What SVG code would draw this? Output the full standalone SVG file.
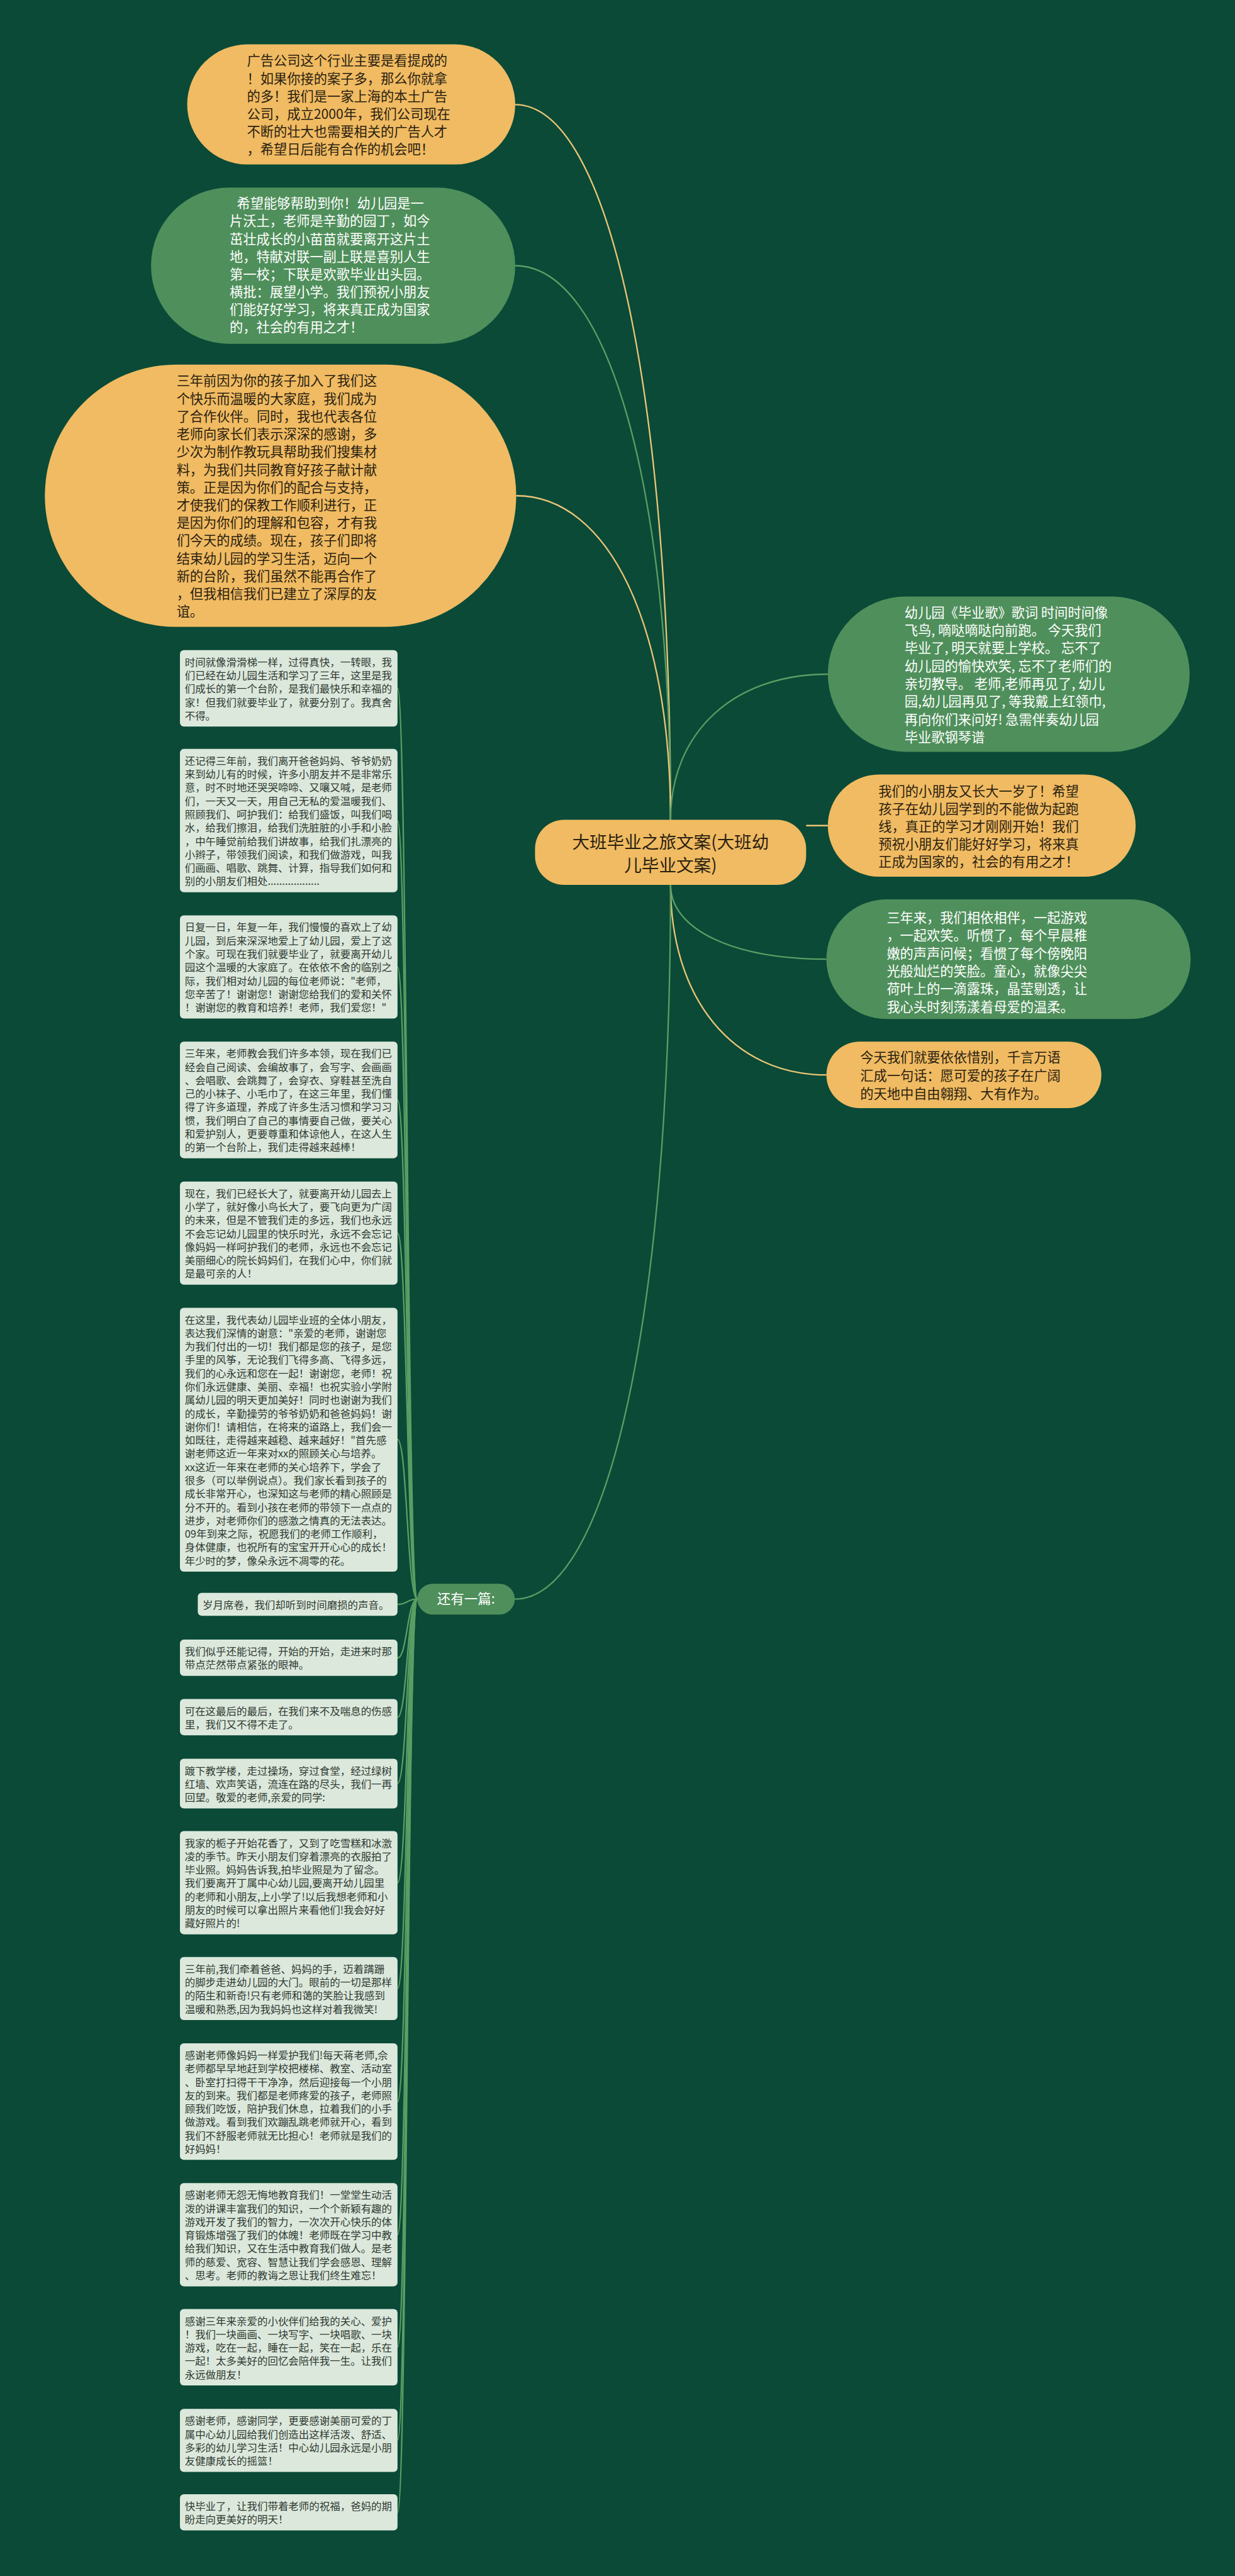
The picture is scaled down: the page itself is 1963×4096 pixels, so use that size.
<svg xmlns="http://www.w3.org/2000/svg" width="1963" height="4096" viewBox="0 0 1963 4096">
<style>
text{font-family:"Noto Sans CJK SC","Noto Sans",sans-serif}
.bg{fill:#0a4a37}
.org{fill:#f0bb62}
.grn{fill:#4f8f5b}
.box{fill:#dce8dc}
.lo{fill:none;stroke:#ecc576;stroke-width:3}
.lg{fill:none;stroke:#5b9e64;stroke-width:3}
.t28{font-size:27.7px}
.dk{fill:#2b2111}
.wt{fill:#ffffff}
.t21{font-size:21.5px;fill:#2f3a32}
.ctr{font-size:36px;fill:#2b2111;text-anchor:middle}
.pil{font-size:28px;fill:#ffffff;text-anchor:middle}
</style>
<rect class="bg" x="0" y="0" width="1963" height="4096"/>
<g transform="scale(0.7668)">
<g id="connectors">
<path class="lo" d="M1390 1700 C1390 810 1261 217 1068 217"/>
<path class="lg" d="M1390 1700 C1390 1011 1261 551 1068 551"/>
<path class="lo" d="M1390 1700 C1390 1297 1262 1028 1070 1028"/>
<path class="lg" d="M1390 1700 C1390 1519 1520 1398 1716 1398"/>
<path class="lo" d="M1671 1712 L1716 1712"/>
<path class="lg" d="M1390 1835 C1390 1927 1519 1989 1713 1989"/>
<path class="lo" d="M1390 1835 C1390 2071 1519 2229 1713 2229"/>
<path class="lg" d="M1390 1835 C1390 2724 1261 3316 1067 3316"/>
<path class="lg" d="M865 3316 C844 3316 844 1427 824 1427"/>
<path class="lg" d="M865 3316 C844 3316 844 1702 824 1702"/>
<path class="lg" d="M865 3316 C844 3316 844 2005 824 2005"/>
<path class="lg" d="M865 3316 C844 3316 844 2281 824 2281"/>
<path class="lg" d="M865 3316 C844 3316 844 2557 824 2557"/>
<path class="lg" d="M865 3316 C844 3316 844 2985 824 2985"/>
<path class="lg" d="M865 3316 C844 3316 844 3327 824 3327"/>
<path class="lg" d="M865 3316 C844 3316 844 3438 824 3438"/>
<path class="lg" d="M865 3316 C844 3316 844 3561 824 3561"/>
<path class="lg" d="M865 3316 C844 3316 844 3698 824 3698"/>
<path class="lg" d="M865 3316 C844 3316 844 3904 824 3904"/>
<path class="lg" d="M865 3316 C844 3316 844 4123 824 4123"/>
<path class="lg" d="M865 3316 C844 3316 844 4358 824 4358"/>
<path class="lg" d="M865 3316 C844 3316 844 4634 824 4634"/>
<path class="lg" d="M865 3316 C844 3316 844 4867 824 4867"/>
<path class="lg" d="M865 3316 C844 3316 844 5060 824 5060"/>
<path class="lg" d="M865 3316 C844 3316 844 5210 824 5210"/>
</g>

<g id="n-top1">
<rect class="org" x="388" y="92" width="680" height="249" rx="124.5"/>
<text class="t28 dk"><tspan x="512" y="136">广告公司这个行业主要是看提成的</tspan><tspan x="512" dy="36.8">！如果你接的案子多，那么你就拿</tspan><tspan x="512" dy="36.8">的多！我们是一家上海的本土广告</tspan><tspan x="512" dy="36.8">公司，成立2000年，我们公司现在</tspan><tspan x="512" dy="36.8">不断的壮大也需要相关的广告人才</tspan><tspan x="512" dy="36.8">，希望日后能有合作的机会吧！</tspan></text>
</g>

<g id="n-top2">
<rect class="grn" x="313" y="389" width="755" height="324" rx="162"/>
<text class="t28 wt"><tspan x="491" y="432">希望能够帮助到你！幼儿园是一</tspan><tspan x="476" dy="36.7">片沃土，老师是辛勤的园丁，如今</tspan><tspan x="476" dy="36.7">茁壮成长的小苗苗就要离开这片土</tspan><tspan x="476" dy="36.7">地，特献对联一副上联是喜别人生</tspan><tspan x="476" dy="36.7">第一校；下联是欢歌毕业出头园。</tspan><tspan x="476" dy="36.7">横批：展望小学。我们预祝小朋友</tspan><tspan x="476" dy="36.7">们能好好学习，将来真正成为国家</tspan><tspan x="476" dy="36.7">的，社会的有用之才！</tspan></text>
</g>

<g id="n-top3">
<rect class="org" x="93" y="756" width="977" height="544" rx="272"/>
<text class="t28 dk"><tspan x="366" y="800">三年前因为你的孩子加入了我们这</tspan><tspan x="366" dy="36.8">个快乐而温暖的大家庭，我们成为</tspan><tspan x="366" dy="36.8">了合作伙伴。同时，我也代表各位</tspan><tspan x="366" dy="36.8">老师向家长们表示深深的感谢，多</tspan><tspan x="366" dy="36.8">少次为制作教玩具帮助我们搜集材</tspan><tspan x="366" dy="36.8">料，为我们共同教育好孩子献计献</tspan><tspan x="366" dy="36.8">策。正是因为你们的配合与支持，</tspan><tspan x="366" dy="36.8">才使我们的保教工作顺利进行，正</tspan><tspan x="366" dy="36.8">是因为你们的理解和包容，才有我</tspan><tspan x="366" dy="36.8">们今天的成绩。现在，孩子们即将</tspan><tspan x="366" dy="36.8">结束幼儿园的学习生活，迈向一个</tspan><tspan x="366" dy="36.8">新的台阶，我们虽然不能再合作了</tspan><tspan x="366" dy="36.8">，但我相信我们已建立了深厚的友</tspan><tspan x="366" dy="36.8">谊。</tspan></text>
</g>

<g id="n-center">
<rect class="org" x="1109" y="1700" width="562" height="135" rx="60"/>
<text class="ctr"><tspan x="1390" y="1759">大班毕业之旅文案(大班幼</tspan><tspan x="1390" dy="48">儿毕业文案)</tspan></text>
</g>

<g id="n-r1">
<rect class="grn" x="1716" y="1237" width="750" height="322" rx="161"/>
<text class="t28 wt"><tspan x="1875" y="1280">幼儿园《毕业歌》歌词 时间时间像</tspan><tspan x="1875" dy="37">飞鸟, 嘀哒嘀哒向前跑。 今天我们</tspan><tspan x="1875" dy="37">毕业了, 明天就要上学校。 忘不了</tspan><tspan x="1875" dy="37">幼儿园的愉快欢笑, 忘不了老师们的</tspan><tspan x="1875" dy="37">亲切教导。 老师,老师再见了, 幼儿</tspan><tspan x="1875" dy="37">园,幼儿园再见了, 等我戴上红领巾,</tspan><tspan x="1875" dy="37">再向你们来问好! 急需伴奏幼儿园</tspan><tspan x="1875" dy="37">毕业歌钢琴谱</tspan></text>
</g>

<g id="n-r2">
<rect class="org" x="1716" y="1606" width="638" height="212" rx="106"/>
<text class="t28 dk"><tspan x="1821" y="1651">我们的小朋友又长大一岁了！希望</tspan><tspan x="1821" dy="36.5">孩子在幼儿园学到的不能做为起跑</tspan><tspan x="1821" dy="36.5">线，真正的学习才刚刚开始！我们</tspan><tspan x="1821" dy="36.5">预祝小朋友们能好好学习，将来真</tspan><tspan x="1821" dy="36.5">正成为国家的，社会的有用之才！</tspan></text>
</g>

<g id="n-r3">
<rect class="grn" x="1713" y="1865" width="755" height="248" rx="124"/>
<text class="t28 wt"><tspan x="1838" y="1913">三年来，我们相依相伴，一起游戏</tspan><tspan x="1838" dy="37">，一起欢笑。听惯了，每个早晨稚</tspan><tspan x="1838" dy="37">嫩的声声问候；看惯了每个傍晚阳</tspan><tspan x="1838" dy="37">光般灿烂的笑脸。童心，就像尖尖</tspan><tspan x="1838" dy="37">荷叶上的一滴露珠，晶莹剔透，让</tspan><tspan x="1838" dy="37">我心头时刻荡漾着母爱的温柔。</tspan></text>
</g>

<g id="n-r4">
<rect class="org" x="1713" y="2160" width="570" height="138" rx="69"/>
<text class="t28 dk"><tspan x="1783" y="2203">今天我们就要依依惜别，千言万语</tspan><tspan x="1783" dy="37.5">汇成一句话：愿可爱的孩子在广阔</tspan><tspan x="1783" dy="37.5">的天地中自由翱翔、大有作为。</tspan></text>
</g>

<g id="n-pill">
<rect class="grn" x="865" y="3284" width="202" height="64" rx="32"/>
<text class="pil" x="966" y="3326">还有一篇:</text>
</g>

<g id="b-a">
<rect class="box" x="373" y="1348" width="451" height="158.5" rx="8"/>
<text class="t21"><tspan x="383" y="1380.7">时间就像滑滑梯一样，过得真快，一转眼，我</tspan><tspan x="383" dy="27.75">们已经在幼儿园生活和学习了三年，这里是我</tspan><tspan x="383" dy="27.75">们成长的第一个台阶，是我们最快乐和幸福的</tspan><tspan x="383" dy="27.75">家！但我们就要毕业了，就要分别了。我真舍</tspan><tspan x="383" dy="27.75">不得。</tspan></text>
</g>

<g id="b-b">
<rect class="box" x="373" y="1553" width="451" height="297.25" rx="8"/>
<text class="t21"><tspan x="383" y="1585.7">还记得三年前，我们离开爸爸妈妈、爷爷奶奶</tspan><tspan x="383" dy="27.75">来到幼儿有的时候，许多小朋友并不是非常乐</tspan><tspan x="383" dy="27.75">意，时不时地还哭哭啼啼、又嚷又喊，是老师</tspan><tspan x="383" dy="27.75">们，一天又一天，用自己无私的爱温暖我们、</tspan><tspan x="383" dy="27.75">照顾我们、呵护我们：给我们盛饭，叫我们喝</tspan><tspan x="383" dy="27.75">水，给我们擦泪，给我们洗脏脏的小手和小脸</tspan><tspan x="383" dy="27.75">，中午睡觉前给我们讲故事，给我们扎漂亮的</tspan><tspan x="383" dy="27.75">小辫子，带领我们阅读，和我们做游戏，叫我</tspan><tspan x="383" dy="27.75">们画画、唱歌、跳舞、计算，指导我们如何和</tspan><tspan x="383" dy="27.75">别的小朋友们相处..................</tspan></text>
</g>

<g id="b-c">
<rect class="box" x="373" y="1898" width="451" height="214" rx="8"/>
<text class="t21"><tspan x="383" y="1930.7">日复一日，年复一年，我们慢慢的喜欢上了幼</tspan><tspan x="383" dy="27.75">儿园，到后来深深地爱上了幼儿园，爱上了这</tspan><tspan x="383" dy="27.75">个家。可现在我们就要毕业了，就要离开幼儿</tspan><tspan x="383" dy="27.75">园这个温暖的大家庭了。在依依不舍的临别之</tspan><tspan x="383" dy="27.75">际，我们相对幼儿园的每位老师说："老师，</tspan><tspan x="383" dy="27.75">您辛苦了！谢谢您！谢谢您给我们的爱和关怀</tspan><tspan x="383" dy="27.75">！谢谢您的教育和培养！老师，我们爱您！"</tspan></text>
</g>

<g id="b-d">
<rect class="box" x="373" y="2160" width="451" height="241.75" rx="8"/>
<text class="t21"><tspan x="383" y="2192.7">三年来，老师教会我们许多本领，现在我们已</tspan><tspan x="383" dy="27.75">经会自己阅读、会编故事了，会写字、会画画</tspan><tspan x="383" dy="27.75">、会唱歌、会跳舞了，会穿衣、穿鞋甚至洗自</tspan><tspan x="383" dy="27.75">己的小袜子、小毛巾了，在这三年里，我们懂</tspan><tspan x="383" dy="27.75">得了许多道理，养成了许多生活习惯和学习习</tspan><tspan x="383" dy="27.75">惯，我们明白了自己的事情要自己做，要关心</tspan><tspan x="383" dy="27.75">和爱护别人，更要尊重和体谅他人，在这人生</tspan><tspan x="383" dy="27.75">的第一个台阶上，我们走得越来越棒！</tspan></text>
</g>

<g id="b-e">
<rect class="box" x="373" y="2450" width="451" height="214" rx="8"/>
<text class="t21"><tspan x="383" y="2482.7">现在，我们已经长大了，就要离开幼儿园去上</tspan><tspan x="383" dy="27.75">小学了，就好像小鸟长大了，要飞向更为广阔</tspan><tspan x="383" dy="27.75">的未来，但是不管我们走的多远，我们也永远</tspan><tspan x="383" dy="27.75">不会忘记幼儿园里的快乐时光，永远不会忘记</tspan><tspan x="383" dy="27.75">像妈妈一样呵护我们的老师，永远也不会忘记</tspan><tspan x="383" dy="27.75">美丽细心的院长妈妈们，在我们心中，你们就</tspan><tspan x="383" dy="27.75">是最可亲的人！</tspan></text>
</g>

<g id="b-f">
<rect class="box" x="373" y="2712" width="451" height="547" rx="8"/>
<text class="t21"><tspan x="383" y="2744.7">在这里，我代表幼儿园毕业班的全体小朋友，</tspan><tspan x="383" dy="27.75">表达我们深情的谢意："亲爱的老师，谢谢您</tspan><tspan x="383" dy="27.75">为我们付出的一切！我们都是您的孩子，是您</tspan><tspan x="383" dy="27.75">手里的风筝，无论我们飞得多高、飞得多远，</tspan><tspan x="383" dy="27.75">我们的心永远和您在一起！谢谢您，老师！祝</tspan><tspan x="383" dy="27.75">你们永远健康、美丽、幸福！也祝实验小学附</tspan><tspan x="383" dy="27.75">属幼儿园的明天更加美好！同时也谢谢为我们</tspan><tspan x="383" dy="27.75">的成长，辛勤操劳的爷爷奶奶和爸爸妈妈！谢</tspan><tspan x="383" dy="27.75">谢你们！请相信，在将来的道路上，我们会一</tspan><tspan x="383" dy="27.75">如既往，走得越来越稳、越来越好！"首先感</tspan><tspan x="383" dy="27.75">谢老师这近一年来对xx的照顾关心与培养。</tspan><tspan x="383" dy="27.75">xx这近一年来在老师的关心培养下，学会了</tspan><tspan x="383" dy="27.75">很多（可以举例说点）。我们家长看到孩子的</tspan><tspan x="383" dy="27.75">成长非常开心，也深知这与老师的精心照顾是</tspan><tspan x="383" dy="27.75">分不开的。看到小孩在老师的带领下一点点的</tspan><tspan x="383" dy="27.75">进步，对老师你们的感激之情真的无法表达。</tspan><tspan x="383" dy="27.75">09年到来之际，祝愿我们的老师工作顺利，</tspan><tspan x="383" dy="27.75">身体健康，也祝所有的宝宝开开心心的成长！</tspan><tspan x="383" dy="27.75">年少时的梦，像朵永远不凋零的花。</tspan></text>
</g>

<g id="b-g">
<rect class="box" x="410" y="3303" width="414" height="47.5" rx="8"/>
<text class="t21" x="420" y="3335.7">岁月席卷，我们却听到时间磨损的声音。</text>
</g>

<g id="b-h">
<rect class="box" x="373" y="3400" width="451" height="75.25" rx="8"/>
<text class="t21"><tspan x="383" y="3432.7">我们似乎还能记得，开始的开始，走进来时那</tspan><tspan x="383" dy="27.75">带点茫然带点紧张的眼神。</tspan></text>
</g>

<g id="b-i">
<rect class="box" x="373" y="3523" width="451" height="75.25" rx="8"/>
<text class="t21"><tspan x="383" y="3555.7">可在这最后的最后，在我们来不及喘息的伤感</tspan><tspan x="383" dy="27.75">里，我们又不得不走了。</tspan></text>
</g>

<g id="b-j">
<rect class="box" x="373" y="3647" width="451" height="103" rx="8"/>
<text class="t21"><tspan x="383" y="3679.7">踱下教学楼，走过操场，穿过食堂，经过绿树</tspan><tspan x="383" dy="27.75">红墙、欢声笑语，流连在路的尽头，我们一再</tspan><tspan x="383" dy="27.75">回望。敬爱的老师,亲爱的同学:</tspan></text>
</g>

<g id="b-k">
<rect class="box" x="373" y="3797" width="451" height="214" rx="8"/>
<text class="t21"><tspan x="383" y="3829.7">我家的栀子开始花香了，又到了吃雪糕和冰激</tspan><tspan x="383" dy="27.75">凌的季节。昨天小朋友们穿着漂亮的衣服拍了</tspan><tspan x="383" dy="27.75">毕业照。妈妈告诉我,拍毕业照是为了留念。</tspan><tspan x="383" dy="27.75">我们要离开丁属中心幼儿园,要离开幼儿园里</tspan><tspan x="383" dy="27.75">的老师和小朋友,上小学了!以后我想老师和小</tspan><tspan x="383" dy="27.75">朋友的时候可以拿出照片来看他们!我会好好</tspan><tspan x="383" dy="27.75">藏好照片的!</tspan></text>
</g>

<g id="b-l">
<rect class="box" x="373" y="4058" width="451" height="130.75" rx="8"/>
<text class="t21"><tspan x="383" y="4090.7">三年前,我们牵着爸爸、妈妈的手，迈着蹒跚</tspan><tspan x="383" dy="27.75">的脚步走进幼儿园的大门。眼前的一切是那样</tspan><tspan x="383" dy="27.75">的陌生和新奇!只有老师和蔼的笑脸让我感到</tspan><tspan x="383" dy="27.75">温暖和熟悉,因为我妈妈也这样对着我微笑!</tspan></text>
</g>

<g id="b-m">
<rect class="box" x="373" y="4237" width="451" height="241.75" rx="8"/>
<text class="t21"><tspan x="383" y="4269.7">感谢老师像妈妈一样爱护我们!每天蒋老师,佘</tspan><tspan x="383" dy="27.75">老师都早早地赶到学校把楼梯、教室、活动室</tspan><tspan x="383" dy="27.75">、卧室打扫得干干净净，然后迎接每一个小朋</tspan><tspan x="383" dy="27.75">友的到来。我们都是老师疼爱的孩子，老师照</tspan><tspan x="383" dy="27.75">顾我们吃饭，陪护我们休息，拉着我们的小手</tspan><tspan x="383" dy="27.75">做游戏。看到我们欢蹦乱跳老师就开心，看到</tspan><tspan x="383" dy="27.75">我们不舒服老师就无比担心！老师就是我们的</tspan><tspan x="383" dy="27.75">好妈妈！</tspan></text>
</g>

<g id="b-n">
<rect class="box" x="373" y="4527" width="451" height="214" rx="8"/>
<text class="t21"><tspan x="383" y="4559.7">感谢老师无怨无悔地教育我们！一堂堂生动活</tspan><tspan x="383" dy="27.75">泼的讲课丰富我们的知识，一个个新颖有趣的</tspan><tspan x="383" dy="27.75">游戏开发了我们的智力，一次次开心快乐的体</tspan><tspan x="383" dy="27.75">育锻炼增强了我们的体魄！老师既在学习中教</tspan><tspan x="383" dy="27.75">给我们知识，又在生活中教育我们做人。是老</tspan><tspan x="383" dy="27.75">师的慈爱、宽容、智慧让我们学会感恩、理解</tspan><tspan x="383" dy="27.75">、思考。老师的教诲之恩让我们终生难忘！</tspan></text>
</g>

<g id="b-o">
<rect class="box" x="373" y="4788" width="451" height="158.5" rx="8"/>
<text class="t21"><tspan x="383" y="4820.7">感谢三年来亲爱的小伙伴们给我的关心、爱护</tspan><tspan x="383" dy="27.75">！我们一块画画、一块写字、一块唱歌、一块</tspan><tspan x="383" dy="27.75">游戏，吃在一起，睡在一起，笑在一起，乐在</tspan><tspan x="383" dy="27.75">一起！太多美好的回忆会陪伴我一生。让我们</tspan><tspan x="383" dy="27.75">永远做朋友！</tspan></text>
</g>

<g id="b-p">
<rect class="box" x="373" y="4995" width="451" height="130.75" rx="8"/>
<text class="t21"><tspan x="383" y="5027.7">感谢老师，感谢同学，更要感谢美丽可爱的丁</tspan><tspan x="383" dy="27.75">属中心幼儿园给我们创造出这样活泼、舒适、</tspan><tspan x="383" dy="27.75">多彩的幼儿学习生活！中心幼儿园永远是小朋</tspan><tspan x="383" dy="27.75">友健康成长的摇篮！</tspan></text>
</g>

<g id="b-q">
<rect class="box" x="373" y="5172" width="451" height="75.25" rx="8"/>
<text class="t21"><tspan x="383" y="5204.7">快毕业了，让我们带着老师的祝福，爸妈的期</tspan><tspan x="383" dy="27.75">盼走向更美好的明天！</tspan></text>
</g>
</g>
</svg>
